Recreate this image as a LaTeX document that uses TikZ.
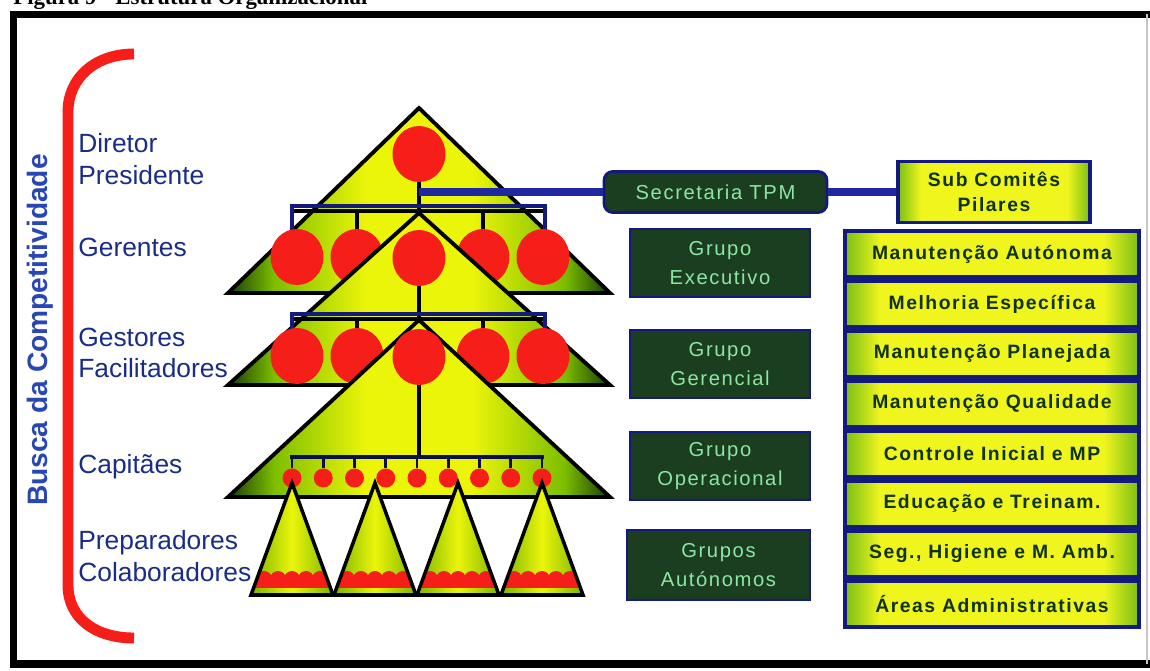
\documentclass[tikz,border=0pt]{standalone}
\usepackage{fontspec}
\setmainfont{Liberation Sans}
\newfontfamily\spacedfont[LetterSpace=8]{Liberation Sans}
\newfontfamily\capfont{Liberation Serif}
\usetikzlibrary{shapes.geometric}
\definecolor{redc}{RGB}{245,30,25}
\definecolor{navy}{RGB}{20,25,125}
\definecolor{linkblue}{RGB}{30,40,160}
\definecolor{lblue}{RGB}{25,45,135}
\definecolor{bblue}{RGB}{40,70,180}
\definecolor{dkbox}{RGB}{28,62,32}
\definecolor{ltgreen}{RGB}{140,230,165}
\definecolor{txtgreen}{RGB}{15,50,15}
\definecolor{tdark}{RGB}{20,60,5}
\definecolor{tgreen}{RGB}{125,190,0}
\definecolor{tyel}{RGB}{235,245,10}
\definecolor{cgreen}{RGB}{120,180,0}
\definecolor{byel}{RGB}{240,245,30}
\definecolor{bgreen}{RGB}{120,190,20}
\definecolor{sepblue}{RGB}{60,100,210}
\pgfdeclarehorizontalshading{trishade}{100bp}{color(0bp)=(tdark); color(25bp)=(tdark); color(31bp)=(tgreen); color(43bp)=(tyel); color(57bp)=(tyel); color(69bp)=(tgreen); color(75bp)=(tdark); color(100bp)=(tdark)}
\pgfdeclarehorizontalshading{coneshade}{100bp}{color(0bp)=(cgreen); color(25bp)=(cgreen); color(50bp)=(tyel); color(75bp)=(cgreen); color(100bp)=(cgreen)}
\pgfdeclarehorizontalshading{boxshade}{100bp}{color(0bp)=(bgreen); color(25bp)=(bgreen); color(31bp)=(byel); color(69bp)=(byel); color(75bp)=(bgreen); color(100bp)=(bgreen)}
\begin{document}
\begin{tikzpicture}[x=0.02cm,y=-0.02cm,
  tri/.style={draw=black, line width=2.2pt, line join=miter, shading=trishade},
  cone/.style={draw=black, line width=2pt, line join=miter},
  pc/.style={ellipse, fill=redc, inner sep=0pt, minimum width=1.06cm, minimum height=1.12cm},
  sc/.style={circle, fill=redc, inner sep=0pt, minimum size=0.38cm},
  bar/.style={draw=black, line width=1.8pt},
  bframe/.style={draw=navy, line width=1.8pt},
  link/.style={draw=linkblue, line width=4pt},
  lbl/.style={text=lblue, font=\fontsize{15}{18}\selectfont, align=left, anchor=west, inner sep=0pt},
  grp/.style={fill=dkbox, draw=navy, line width=1.6pt, text=ltgreen, font=\spacedfont\fontsize{11.5}{16}\selectfont, align=center, inner sep=0pt},
  pil/.style={draw=navy, line width=1.8pt, shading=boxshade, text=txtgreen, font=\spacedfont\bfseries\fontsize{11}{14}\selectfont, align=center, inner sep=0pt},
  item/.style={pil, minimum width=5.88cm, minimum height=0.92cm}
]
\useasboundingbox (0,0) rectangle (1150,671);
\fill[white] (0,0) rectangle (1150,671);

% caption (cut off at the top, as in the reference)
\node[anchor=base west, inner sep=0pt, font=\capfont\bfseries\fontsize{13}{15}\selectfont] (cap) at (13,5) {Figura 9 - Estrutura Organizacional};

% frame
\draw[line width=4pt] (1150,14.5) -- (13.5,14.5) -- (13.5,664) -- (1150,664);
\draw[gray!45, line width=0.6pt] (1147,14) -- (1147,664);

% red bracket and vertical title
\draw[redc, line width=6.2pt] (134,54) .. controls (95,54) and (68,78) .. (68,112) -- (68,585) .. controls (68,618) and (95,638) .. (134,638);
\node[rotate=90, text=bblue, font=\bfseries\fontsize{16}{18}\selectfont] (busca) at (40,330) {Busca da Competitividade};

% level labels
\node[lbl] (ldir) at (78,159) {Diretor\\Presidente};
\node[lbl] (lger) at (78,247) {Gerentes};
\node[lbl] (lges) at (78,353) {Gestores\\Facilitadores};
\node[lbl] (lcap) at (78,467) {Capitães};
\node[lbl] (lpre) at (78,556) {Preparadores\\Colaboradores};

% right-hand boxes
\node[grp, rounded corners=5pt, minimum width=4.46cm, minimum height=0.82cm] (sec) at (715.5,192) {Secretaria TPM};
\node[pil, minimum width=3.84cm, minimum height=1.22cm] (sub) at (994,192) {Sub Comitês\\Pilares};
\node[grp, minimum width=3.6cm, minimum height=1.36cm] (ge) at (720,263) {Grupo\\Executivo};
\node[grp, minimum width=3.6cm, minimum height=1.36cm] (gg) at (720,364) {Grupo\\Gerencial};
\node[grp, minimum width=3.6cm, minimum height=1.36cm] (go) at (720,466) {Grupo\\Operacional};
\node[grp, minimum width=3.66cm, minimum height=1.4cm] (ga) at (718.5,565) {Grupos\\Autónomos};

\fill[sepblue] (844,229) rectangle (1140,629);
\node[item] (p1) at (992,254) {Manutenção Autónoma};
\node[item] (p2) at (992,304) {Melhoria Específica};
\node[item] (p3) at (992,354) {Manutenção Planejada};
\node[item] (p4) at (992,404) {Manutenção Qualidade};
\node[item] (p5) at (992,454) {Controle Inicial e MP};
\node[item] (p6) at (992,504) {Educação e Treinam.};
\node[item] (p7) at (992,554) {Seg., Higiene e M. Amb.};
\node[item] (p8) at (992,604) {Áreas Administrativas};

% ---- level 1 triangle
\draw[tri] (419,108) -- (610,293) -- (228,293) -- cycle;
\node[pc] (c0) at (419,154) {};
\coordinate (hub) at (419,192);
\draw[bar] (c0.south) -- (419,211);
\draw[link] (hub) -- (sec.west);
\draw[link] (sec.east) -- (sub.west);
\draw[bframe] (292,232) -- (292,206) -- (545,206) -- (545,232);
\draw[bar] (294,211) -- (543,211);
\draw[bar] (357,211) -- (357,234);
\draw[bar] (483,211) -- (483,234);
\node[pc] (g1) at (297,257) {};
\node[pc] (g2) at (357,257) {};
\node[pc] (g4) at (483,257) {};
\node[pc] (g5) at (543,257) {};

% ---- level 2 triangle
\draw[tri] (419,213) -- (610,385) -- (228,385) -- cycle;
\node[pc] (g3) at (419,258) {};
\draw[bar] (g3.south) -- (419,319);
\draw[bframe] (292,340) -- (292,314) -- (545,314) -- (545,340);
\draw[bar] (294,319) -- (543,319);
\draw[bar] (357,319) -- (357,334);
\draw[bar] (483,319) -- (483,334);
\node[pc] (h1) at (297,356) {};
\node[pc] (h2) at (357,356) {};
\node[pc] (h4) at (483,356) {};
\node[pc] (h5) at (543,356) {};

% ---- level 3 triangle
\draw[tri] (419,320) -- (610,497) -- (228,497) -- cycle;
\node[pc] (h3) at (419,357) {};
\draw[bar] (h3.south) -- (419,457);
\draw[draw=navy!60!black, line width=2pt] (290,457) -- (544,457);
\foreach \i in {0,...,8} {
  \pgfmathsetmacro{\xx}{292+31.25*\i}
  \node[sc] (s\i) at (\xx,478) {};
  \draw[navy!60!black, line width=1.6pt] (\xx,457) -- (s\i.north);
}

% ---- cones
\foreach \a [count=\k] in {292,375,458,542} {
  \begin{scope}
    \clip (\a,483) -- ({\a+41},595) -- ({\a-41},595) -- cycle;
    \shade[shading=coneshade] ({\a-41},483) rectangle ({\a+41},595);
    \fill[redc] ({\a-45},579) rectangle ({\a+45},588);
    \foreach \d in {-28,-14,0,14,28} \fill[redc] ({\a+\d},579) circle[radius=8];
  \end{scope}
  \draw[cone] (\a,483) -- ({\a+41},595) -- ({\a-41},595) -- cycle;
}
\end{tikzpicture}
\end{document}
